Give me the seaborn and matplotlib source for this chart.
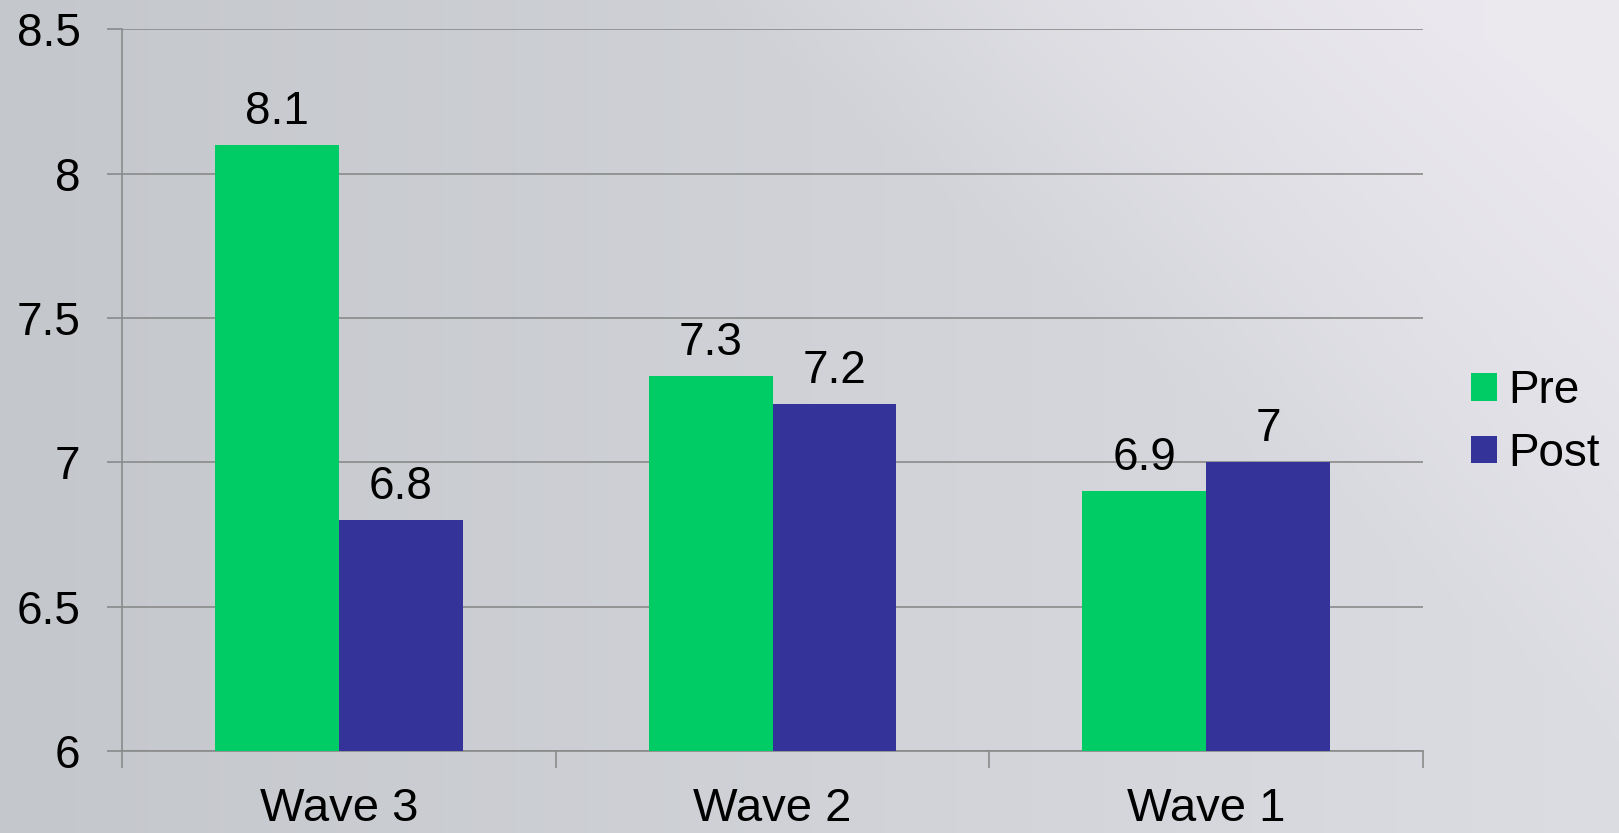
import numpy as np
import pandas as pd
import matplotlib
matplotlib.use("Agg")
import matplotlib.pyplot as plt
import seaborn as sns

# data
waves = ["Wave 3", "Wave 2", "Wave 1"]
pre = [8.1, 7.3, 6.9]
post = [6.8, 7.2, 7.0]
series = ["Pre", "Post"]
colors = ["#00CC66", "#333399"]
y_ticks = [6, 6.5, 7, 7.5, 8, 8.5]
y_labels = ["6", "6.5", "7", "7.5", "8", "8.5"]

df = pd.DataFrame({
    "wave": waves * 2,
    "value": pre + post,
    "series": ["Pre"] * len(waves) + ["Post"] * len(waves),
})

sns.set_style("white")
plt.rcParams["font.family"] = ["Liberation Sans", "DejaVu Sans"]
plt.rcParams["text.color"] = "black"
plt.rcParams["xtick.labelcolor"] = "black"
plt.rcParams["ytick.labelcolor"] = "black"

fig = plt.figure(figsize=(16.19, 8.33), dpi=100)

# slide-like grey background
bg = fig.add_axes([0, 0, 1, 1], zorder=-10)
h, w = 300, 600
xx, yy = np.meshgrid(np.linspace(0, 1, w), np.linspace(0, 1, h))
left_c = np.array([196, 199, 203]) / 255
right_c = np.array([220, 221, 227]) / 255
img = left_c + (right_c - left_c) * xx[..., None]
# lighter wedge in the upper right corner
wedge = np.clip((xx - 0.72) * 2.2 + (0.45 - yy) * 1.4, 0, 1)
light = np.array([238, 235, 241]) / 255
img = img * (1 - wedge[..., None] * 0.85) + light * wedge[..., None] * 0.85
bg.imshow(img, aspect="auto", extent=[0, 1, 0, 1], origin="upper")
bg.axis("off")

ax = fig.add_axes([0.0754, 0.0985, 0.8036, 0.8665])
ax.patch.set_alpha(0)
sns.barplot(data=df, x="wave", y="value", hue="series", hue_order=series,
            palette=colors, order=waves, width=0.571, saturation=1,
            linewidth=0, ax=ax, zorder=3)

ax.set_ylim(6, 8.5)
ax.set_xlim(-0.5, len(waves) - 0.5)
ax.set_yticks(y_ticks)
ax.set_yticklabels(y_labels)
ax.yaxis.grid(True, color="#8a8a8a", linewidth=1.2, zorder=0)
ax.set_axisbelow(True)

# category boundaries as tick marks, labels centred without ticks
ax.set_xticks(np.arange(len(waves)))
ax.set_xticklabels(waves)
ax.set_xticks(np.arange(len(waves) + 1) - 0.5, minor=True)
ax.tick_params(axis="x", which="major", length=0, pad=26, labelsize=34)
ax.tick_params(axis="x", which="minor", length=12, width=1.2, color="#8a8a8a",
               direction="out", bottom=True)
ax.tick_params(axis="y", length=11, width=1.2, color="#8a8a8a",
               direction="out", left=True, pad=19, labelsize=33)

for s in ["top", "right"]:
    ax.spines[s].set_visible(False)
for s in ["left", "bottom"]:
    ax.spines[s].set_color("#8a8a8a")
    ax.spines[s].set_linewidth(1.2)

ax.set_xlabel("")
ax.set_ylabel("")

for cont in ax.containers:
    ax.bar_label(cont, labels=[f"{v:g}" for v in cont.datavalues],
                 padding=8, fontsize=33, color="black")

ax.legend(loc="center left", bbox_to_anchor=(1.037, 0.455), frameon=False,
          fontsize=33, handlelength=0.57, handleheight=0.55,
          handletextpad=0.24, labelspacing=0.4, borderaxespad=0, borderpad=0)

fig.savefig("out.png", dpi=100)
